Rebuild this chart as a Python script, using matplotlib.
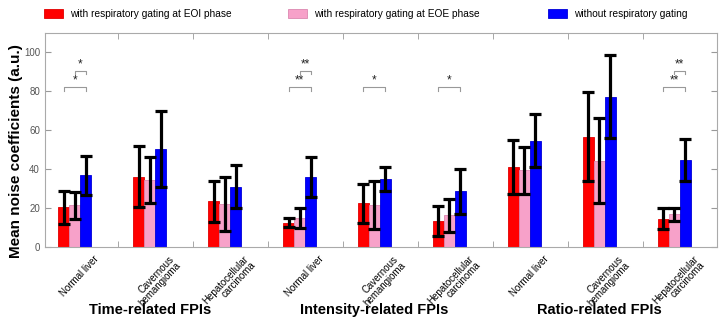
import matplotlib
matplotlib.use('Agg')
import matplotlib.pyplot as plt
import numpy as np

plt.rcParams['font.family'] = ['Liberation Sans', 'DejaVu Sans']

groups = ['Normal liver', 'Cavernous\nhemangioma', 'Hepatocellular\ncarcinoma'] * 3
sections = ['Time-related FPIs', 'Intensity-related FPIs', 'Ratio-related FPIs']
series = ['with respiratory gating at EOI phase',
          'with respiratory gating at EOE phase',
          'without respiratory gating']

eoi_mean = [20.3, 36.2, 23.4, 12.5, 22.5, 13.3, 41.0, 56.7, 14.5]
eoi_err = [8.3, 15.8, 10.4, 2.2, 10.0, 7.5, 13.9, 22.8, 5.4]
eoe_mean = [21.3, 34.2, 22.3, 14.8, 21.6, 16.2, 39.4, 44.3, 16.8]
eoe_err = [7.0, 11.8, 13.9, 5.0, 12.3, 8.3, 12.2, 21.8, 3.4]
free_mean = [36.8, 50.5, 31.0, 36.0, 35.0, 28.5, 54.7, 77.3, 44.6]
free_err = [10.2, 19.5, 11.2, 10.3, 6.0, 11.5, 13.7, 21.4, 10.7]

# (group, bar a, bar b, label, level)
signif = [(0, 0, 2, '*', 0), (0, 1, 2, '*', 1),
          (3, 0, 2, '**', 0), (3, 1, 2, '**', 1),
          (4, 0, 2, '*', 0),
          (5, 0, 2, '*', 0),
          (8, 0, 2, '**', 0), (8, 1, 2, '**', 1)]

colors = ['#ff0000', '#f7a1c9', '#0000ff']
edges = ['#e00000', '#dc88b0', '#0000d8']

fig = plt.figure(figsize=(7.24, 3.24), dpi=100)
ax = fig.add_axes([0.062, 0.238, 0.928, 0.66])

x = np.arange(1, 10)
w = 0.147
means = [eoi_mean, eoe_mean, free_mean]
errs = [eoi_err, eoe_err, free_err]
handles = []
for i in range(3):
    xs = x + (i - 1) * w
    b = ax.bar(xs, means[i], w, color=colors[i], edgecolor=edges[i],
               linewidth=0.6, label=series[i], zorder=2)
    handles.append(b)
    ax.errorbar(xs, means[i], yerr=errs[i], fmt='none', ecolor='black',
                elinewidth=2.3, capsize=4, capthick=2.3, zorder=3)

lev_y = [82.3, 90.7]
for g, a, bb, lab, lev in signif:
    x0 = x[g] + (a - 1) * w
    x1 = x[g] + (bb - 1) * w
    y = lev_y[lev]
    ax.plot([x0, x0, x1, x1], [y - 2, y, y, y - 2], color='#999999', lw=0.8, zorder=2)
    ax.text((x0 + x1) / 2, y + 0.3, lab, ha='center', va='bottom',
            fontsize=8.5, color='#222222')

ax.set_xlim(0.6, 9.57)
ax.set_ylim(0, 110)
ax.set_yticks([0, 20, 40, 60, 80, 100])
ax.set_xticks(x)
ax.set_xticklabels([])
ax.set_xticks(np.arange(1.58, 9.5, 1.0), minor=True)
ax.tick_params(axis='x', which='major', length=0)
ax.tick_params(axis='x', which='minor', direction='in', length=4,
               top=True, bottom=True, color='#999999')
ax.tick_params(axis='y', direction='in', length=4, right=True,
               labelsize=7, labelcolor='#555555', color='#999999')
for s in ax.spines.values():
    s.set_color('#aaaaaa')
    s.set_linewidth(0.8)

for xi, lab in zip(x, groups):
    ax.text(xi + 0.25, -3.5, lab, rotation=47, ha='right', va='top',
            rotation_mode='anchor', fontsize=7, linespacing=0.9,
            clip_on=False)

ax.set_ylabel('Mean noise coefficients (a.u.)', fontsize=11,
              fontweight='bold')
ax.yaxis.set_label_coords(-0.032, 0.45)

for k, sec in enumerate(sections):
    ax.text(x[3 * k + 1], -32.5, sec, ha='center', va='center',
            fontsize=10.5, fontweight='bold')

# one legend entry per column position, as in the reference
leg_x = [0.048, 0.385, 0.744]
for h, s, lx in zip(handles, series, leg_x):
    fig.legend([h], [s], loc='upper left', bbox_to_anchor=(lx, 1.0),
               frameon=False, fontsize=7.3, handlelength=1.9,
               handleheight=1.0, handletextpad=0.7)

fig.savefig('out.png', dpi=100)
